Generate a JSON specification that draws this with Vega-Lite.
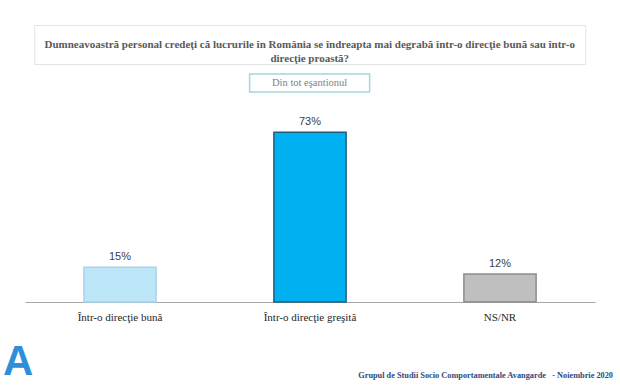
{
  "$schema": "https://vega.github.io/schema/vega-lite/v6.json",
  "background": "white",
  "padding": {"left": 3, "top": 24, "right": 5, "bottom": 4},
  "config": {"font": "Liberation Serif"},
  "title": {
    "text": "Grupul de Studii Socio Comportamentale Avangarde \u00a0\u00a0- Noiembrie 2020",
    "orient": "bottom", "anchor": "end", "fontSize": 8.3, "fontWeight": "bold",
    "color": "#2F4A7A", "font": "Liberation Serif", "dx": 18, "dy": -12, "offset": 0
  },
  "center": true,
  "spacing": 8,
  "vconcat": [
    {
      "width": 551, "height": 39,
      "view": {"stroke": "#E3E3E3"},
      "data": {"values": [{"q": "Dumneavoastră personal credeţi că lucrurile în România se îndreapta mai degrabă într-o direcţie bună sau într-o\ndirecţie proastă?"}]},
      "mark": {"type": "text", "lineBreak": "\n", "fontWeight": "bold", "fontSize": 11, "color": "#595959", "lineHeight": 14, "font": "Liberation Serif"},
      "encoding": {"text": {"field": "q", "type": "nominal"}}
    },
    {
      "width": 120, "height": 18,
      "view": {"stroke": "#A4D6DE", "strokeWidth": 1.5},
      "data": {"values": [{"s": "Din tot eşantionul"}]},
      "mark": {"type": "text", "fontSize": 10.5, "color": "#7F7F7F", "font": "Liberation Serif"},
      "encoding": {"text": {"field": "s", "type": "nominal"}}
    },
    {
      "width": 570, "height": 201,
      "view": {"stroke": null},
      "title": {"text": "A", "orient": "bottom", "anchor": "start", "fontSize": 42, "color": "#2E8FD9", "font": "Liberation Sans", "fontWeight": "bold", "dx": -22, "offset": 20},
      "data": {"values": [
        {"cat": "Într-o direcţie bună", "v": 15, "lab": "15%"},
        {"cat": "Într-o direcţie greşită", "v": 73, "lab": "73%"},
        {"cat": "NS/NR", "v": 12, "lab": "12%"}
      ]},
      "encoding": {
        "x": {"field": "cat", "type": "nominal", "sort": null,
          "scale": {"paddingInner": 0.62, "paddingOuter": 0.31},
          "axis": {"title": null, "labelAngle": 0, "ticks": false, "domainColor": "#A6A6A6", "domainWidth": 1.2,
            "labelFont": "Liberation Serif", "labelFontSize": 11, "labelColor": "#262626", "labelPadding": 9}},
        "y": {"field": "v", "type": "quantitative", "scale": {"domain": [0, 86.5]}, "axis": null}
      },
      "layer": [
        {
          "mark": {"type": "bar", "strokeWidth": 1.5},
          "encoding": {
            "color": {"field": "cat", "type": "nominal", "legend": null,
              "scale": {"domain": ["Într-o direcţie bună", "Într-o direcţie greşită", "NS/NR"], "range": ["#BDE6F8", "#00B0F0", "#BFBFBF"]}},
            "stroke": {"field": "cat", "type": "nominal", "legend": null,
              "scale": {"domain": ["Într-o direcţie bună", "Într-o direcţie greşită", "NS/NR"], "range": ["#A9D4EA", "#1B5E7E", "#8C8C8C"]}}
          }
        },
        {
          "mark": {"type": "text", "dy": -10, "font": "Liberation Sans", "fontSize": 11, "color": "#404040"},
          "encoding": {"text": {"field": "lab", "type": "nominal"}}
        }
      ]
    }
  ]
}
